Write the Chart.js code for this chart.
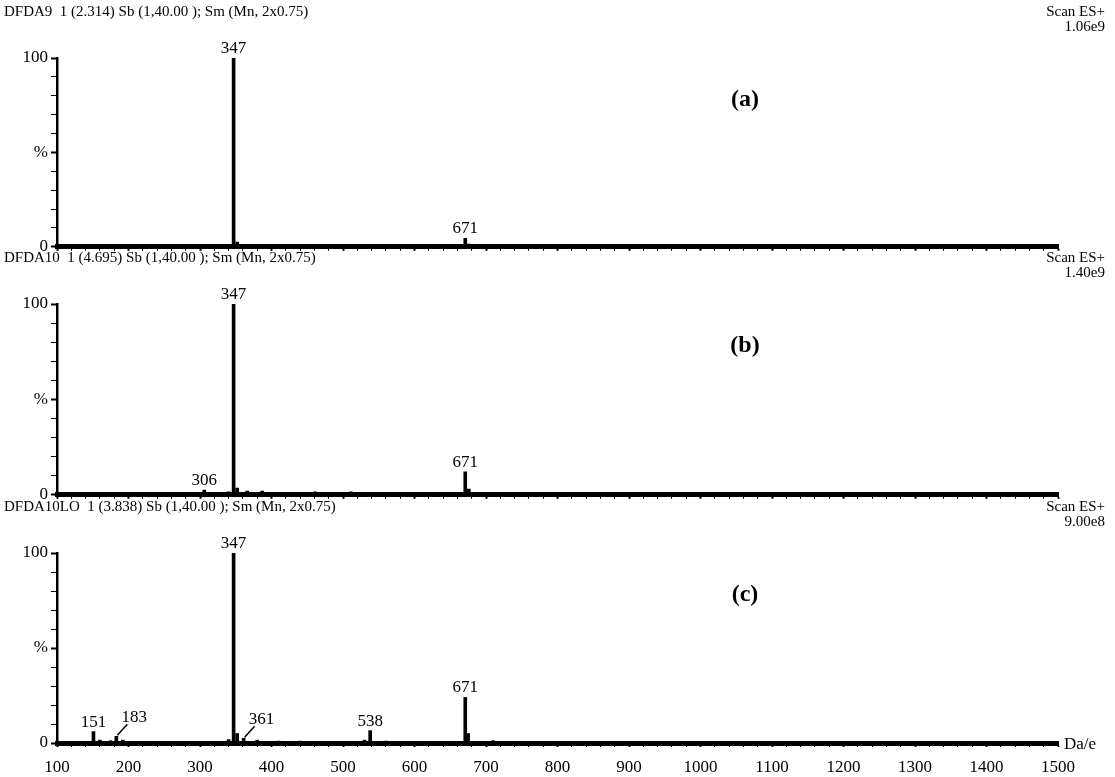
<!DOCTYPE html>
<html>
<head>
<meta charset="utf-8">
<script src="https://cdn.jsdelivr.net/npm/chart.js@4.4.1/dist/chart.umd.min.js"></script>
<style>
  body { margin: 0; background: #fff; }
  #wrap { position: relative; width: 1115px; height: 777px; overflow: hidden; }
  .panel { position: absolute; left: 0; width: 1115px; }
</style>
</head>
<body>
<div id="wrap">
  <div class="panel" id="panel0"><canvas id="spec0"></canvas></div>
  <div class="panel" id="panel1"><canvas id="spec1"></canvas></div>
  <div class="panel" id="panel2"><canvas id="spec2"></canvas></div>
</div>
<script>
// spectrum (a) - m/z and relative intensity (%)
var mzA  = [150, 190, 330, 347, 352, 365, 395, 470, 540, 600, 640, 671, 676, 720, 780, 900, 1000, 1200, 1300];
var intA = [0.8, 0.6, 0.8, 100, 2.5, 1.2, 1.0, 0.6, 0.8, 0.6, 0.8, 4.5, 1.5, 0.8, 0.6, 0.5, 0.5, 1.0, 0.6];
var peakLabelsA = [347, 671];

// spectrum (b)
var mzB  = [130, 200, 260, 306, 340, 347, 352, 366, 387, 420, 461, 511, 529, 600, 671, 676, 720, 800, 1000, 1200];
var intB = [0.8, 0.8, 1.0, 2.5, 1.5, 100, 3.5, 2.0, 2.0, 1.0, 1.5, 1.5, 1.2, 0.8, 12, 3.0, 1.0, 0.7, 0.6, 0.6];
var peakLabelsB = [306, 347, 671];

// spectrum (c)
var mzC  = [120, 151, 160, 175, 183, 192, 300, 340, 347, 352, 361, 380, 410, 440, 500, 530, 538, 560, 640, 671, 675, 710, 750, 900, 1100, 1300];
var intC = [0.8, 6.0, 1.5, 1.2, 3.5, 1.5, 0.8, 1.8, 100, 5.0, 2.5, 1.5, 1.0, 1.0, 0.8, 1.5, 6.5, 1.0, 0.8, 24, 5.0, 1.2, 0.8, 0.6, 0.6, 0.6];
var peakLabelsC = [151, 183, 347, 361, 538, 671];

var runNames = [
  "DFDA9  1 (2.314) Sb (1,40.00 ); Sm (Mn, 2x0.75)",
  "DFDA10  1 (4.695) Sb (1,40.00 ); Sm (Mn, 2x0.75)",
  "DFDA10LO  1 (3.838) Sb (1,40.00 ); Sm (Mn, 2x0.75)"
];
var scanMax = ["1.06e9", "1.40e9", "9.00e8"];
var panelTags = ["(a)", "(b)", "(c)"];
var yTickValues = [0, 50, 100];
var yTickText = ["0", "%", "100"];
var xMin = 100, xMax = 1500;

var spectra = [
  { mz: mzA, inten: intA, labels: peakLabelsA },
  { mz: mzB, inten: intB, labels: peakLabelsB },
  { mz: mzC, inten: intC, labels: peakLabelsC }
];

// where each stacked panel sits on the page
var layout = [
  { top: 0,   height: 260, plotTop: 58, axisH: 5,  showX: false },
  { top: 236, height: 272, plotTop: 68, axisH: 5,  showX: false },
  { top: 485, height: 292, plotTop: 68, axisH: 34, showX: true }
];

// labels pushed aside with a short leader line
var leaderOffset = { 183: { dx: 18, dy: 10 }, 361: { dx: 18, dy: 10 } };

var serif = '"Liberation Serif", "Times New Roman", serif';

function textPlugin(i) {
  return {
    id: "spectrumText" + i,
    afterDraw: function (chart) {
      var c = chart.ctx, a = chart.chartArea;
      var xs = chart.scales.x, ys = chart.scales.y;
      var sp = spectra[i];
      c.save();
      c.fillStyle = "#000";
      c.strokeStyle = "#000";

      // header line
      c.textBaseline = "middle";
      c.font = "15px " + serif;
      c.textAlign = "left";
      c.fillText(runNames[i], 4, a.top - 46);
      c.textAlign = "right";
      c.fillText("Scan ES+", 1105, a.top - 46);
      c.fillText(scanMax[i], 1105, a.top - 31);

      c.font = "bold 24px " + serif;
      c.textAlign = "center";
      c.fillText(panelTags[i], 745, a.top + 42);

      // peak m/z labels
      c.font = "17px " + serif;
      c.textBaseline = "alphabetic";
      sp.labels.forEach(function (m) {
        var k = sp.mz.indexOf(m);
        var px = xs.getPixelForValue(m);
        var py = ys.getPixelForValue(sp.inten[k]);
        var off = leaderOffset[m];
        if (off) {
          c.lineWidth = 1.5;
          c.beginPath();
          c.moveTo(px + 1, py - 1);
          c.lineTo(px + off.dx - 7, py - off.dy - 2);
          c.stroke();
          c.fillText(String(m), px + off.dx, py - off.dy - 4);
        } else {
          c.fillText(String(m), px, py - 5);
        }
      });

      if (layout[i].showX) {
        c.font = "17px " + serif;
        c.textAlign = "left";
        c.textBaseline = "middle";
        c.fillText("Da/e", a.right + 6, a.bottom + 2);
      }
      c.restore();
    }
  };
}

function buildPanel(i) {
  var L = layout[i];
  var sp = spectra[i];
  var box = document.getElementById("panel" + i);
  box.style.top = L.top + "px";
  box.style.height = L.height + "px";

  var points = sp.mz.map(function (m, k) {
    return { x: m, y: sp.inten[k] };
  });

  new Chart(document.getElementById("spec" + i), {
    type: "bar",
    data: {
      datasets: [{
        data: points,
        backgroundColor: "#000",
        borderWidth: 0,
        barThickness: 3
      }]
    },
    options: {
      responsive: true,
      maintainAspectRatio: false,
      animation: false,
      layout: { padding: { top: L.plotTop, left: 0, right: 57, bottom: 0 } },
      plugins: { legend: { display: false }, tooltip: { enabled: false } },
      scales: {
        x: {
          type: "linear",
          min: xMin,
          max: xMax,
          offset: false,
          afterFit: function (s) { s.height = L.axisH; },
          ticks: {
            stepSize: 20,
            autoSkip: false,
            maxRotation: 0,
            padding: 10,
            color: "#000",
            font: { family: serif, size: 17 },
            callback: function (v) {
              return (L.showX && v % 100 === 0) ? String(v) : "";
            }
          },
          grid: {
            offset: false,
            drawOnChartArea: false,
            tickLength: 4,
            tickColor: "#000",
            tickWidth: function (ctx) {
              return ctx.tick && ctx.tick.value % 100 === 0 ? 2 : 1;
            }
          },
          border: { color: "#000", width: 5 }
        },
        y: {
          min: 0,
          max: 100,
          afterFit: function (s) { s.width = 57; },
          ticks: {
            stepSize: 10,
            autoSkip: false,
            padding: 3,
            color: "#000",
            font: { family: serif, size: 17 },
            callback: function (v) {
              var k = yTickValues.indexOf(v);
              return k >= 0 ? yTickText[k] : "";
            }
          },
          grid: {
            drawOnChartArea: false,
            tickLength: 6,
            tickColor: "#000",
            tickWidth: function (ctx) {
              return ctx.tick && yTickValues.indexOf(ctx.tick.value) >= 0 ? 2 : 1;
            }
          },
          border: { color: "#000", width: 2.5 }
        }
      }
    },
    plugins: [textPlugin(i)]
  });
}

buildPanel(0);
buildPanel(1);
buildPanel(2);
</script>
</body>
</html>
